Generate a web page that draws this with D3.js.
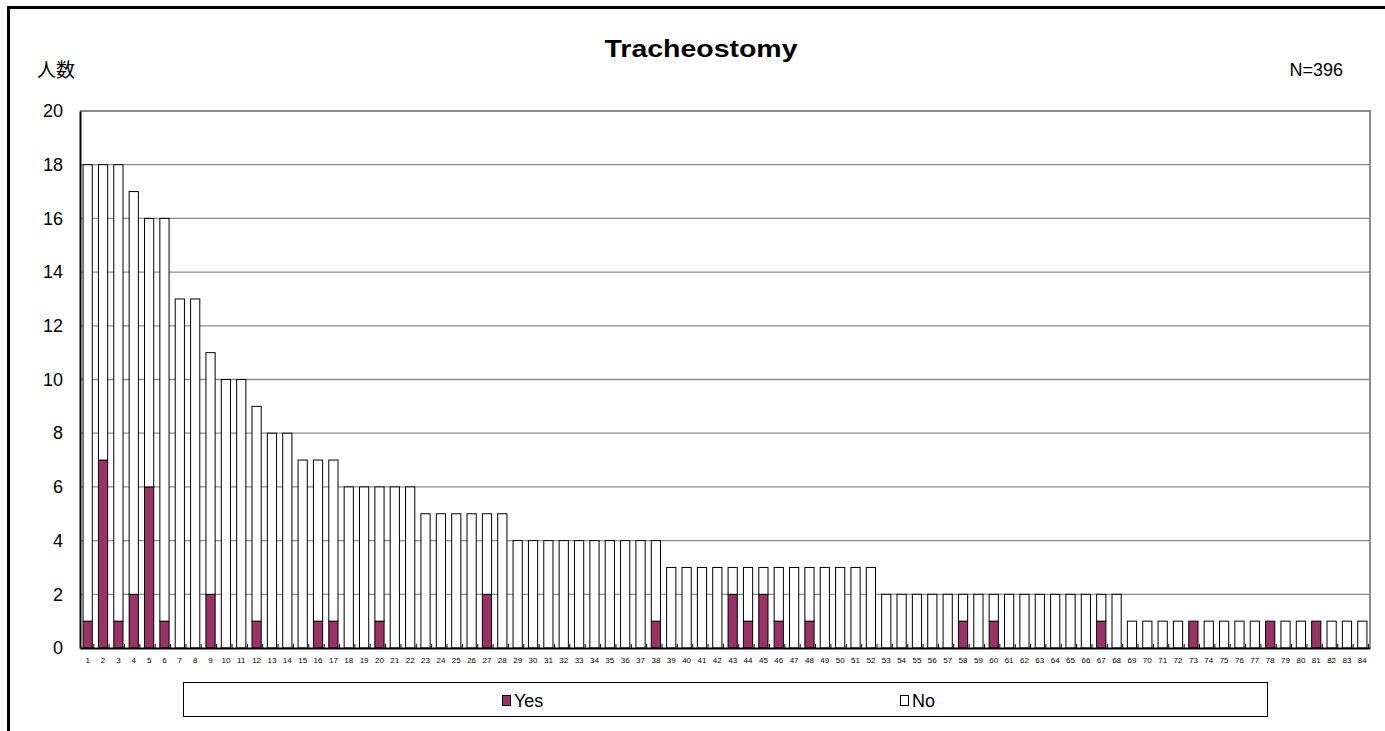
<!DOCTYPE html>
<html><head><meta charset="utf-8">
<script src="https://cdn.jsdelivr.net/npm/d3@7"></script>
<style>body{margin:0;background:#fff;}svg{display:block;}</style>
</head><body>
<script>
const categories = d3.range(1, 85).map(String);
const totals = [18,18,18,17,16,16,13,13,11,10,10,9,8,8,7,7,7,6,6,6,6,6,5,5,5,5,5,5,
  4,4,4,4,4,4,4,4,4,4,3,3,3,3,3,3,3,3,3,3,3,3,3,3,2,2,2,2,2,2,2,2,2,2,2,2,2,2,2,2,
  1,1,1,1,1,1,1,1,1,1,1,1,1,1,1,1];
const yesValues = {1:1,2:7,3:1,4:2,5:6,6:1,9:2,12:1,16:1,17:1,20:1,27:2,38:1,43:2,44:1,45:2,46:1,48:1,58:1,60:1,67:1,73:1,78:1,81:1};
const yes = categories.map(c => yesValues[c] || 0);
const no = totals.map((t, i) => t - yes[i]);
const yTicks = [0,2,4,6,8,10,12,14,16,18,20];
const seriesNames = ["Yes", "No"];
const colors = {Yes: "#993366", No: "#ffffff"};

const W = 1385, H = 731;
const svg = d3.select("body").append("svg").attr("width", W).attr("height", H);
const font = "'Liberation Sans', Arial, sans-serif";

// outer frame
svg.append("rect").attr("x", 8.5).attr("y", 7.5).attr("width", W + 20).attr("height", H + 20)
  .attr("fill", "none").attr("stroke", "#000").attr("stroke-width", 3);

const pLeft = 80, pRight = 1370, pTop = 111, pBottom = 648;
const x = d3.scaleBand().domain(categories).range([pLeft, pRight]).paddingInner(0.4).paddingOuter(0.2);
const y = d3.scaleLinear().domain([0, 20]).range([pBottom, pTop]);

// gridlines
svg.append("g").selectAll("line").data(yTicks.slice(1, -1)).join("line")
  .attr("x1", pLeft).attr("x2", pRight).attr("y1", d => y(d)).attr("y2", d => y(d))
  .attr("stroke", "#8c8c8c").attr("stroke-width", 1.3);

// plot border (top, right)
svg.append("path").attr("d", `M${pLeft},${y(20)}H${pRight}V${pBottom}`)
  .attr("fill", "none").attr("stroke", "#8c8c8c").attr("stroke-width", 2);

const stackData = d3.stack().keys(seriesNames)(categories.map((c, i) => ({cat: c, Yes: yes[i], No: no[i]})));
svg.append("g").selectAll("g").data(stackData).join("g")
  .attr("fill", d => colors[d.key])
  .selectAll("rect").data(d => d.filter(p => p[1] > p[0])).join("rect")
  .attr("x", d => x(d.data.cat)).attr("width", x.bandwidth())
  .attr("y", d => y(d[1])).attr("height", d => y(d[0]) - y(d[1]))
  .attr("stroke", "#000").attr("stroke-width", 1);

// axes
const yAxis = d3.axisLeft(y).tickValues(yTicks).tickSize(0).tickPadding(17);
const gy = svg.append("g").attr("transform", `translate(${pLeft},0)`).call(yAxis);
gy.select(".domain").attr("stroke", "#000").attr("stroke-width", 2);
gy.selectAll("text").attr("font-family", font).attr("font-size", 18).attr("fill", "#000");

const xAxis = d3.axisBottom(x).tickSize(0).tickPadding(9);
const gx = svg.append("g").attr("transform", `translate(0,${pBottom})`).call(xAxis);
gx.select(".domain").attr("stroke", "#000").attr("stroke-width", 2);
gx.selectAll("text").attr("font-family", font).attr("font-size", 8).attr("fill", "#000");
// small inside ticks
svg.append("g").selectAll("line").data(categories).join("line")
  .attr("x1", d => x(d) + x.bandwidth() + 1.5).attr("x2", d => x(d) + x.bandwidth() + 1.5)
  .attr("y1", pBottom).attr("y2", pBottom - 4).attr("stroke", "#000").attr("stroke-width", 1);

// titles
svg.append("text").attr("x", 701).attr("y", 57).attr("text-anchor", "middle")
  .attr("font-family", font).attr("font-weight", "bold").attr("font-size", 23)
  .attr("textLength", 193).attr("lengthAdjust", "spacingAndGlyphs").text("Tracheostomy");
svg.append("text").attr("x", 37).attr("y", 77)
  .attr("font-family", "'Noto Sans CJK JP', sans-serif").attr("font-size", 19).text("人数");
svg.append("text").attr("x", 1343).attr("y", 76).attr("text-anchor", "end")
  .attr("font-family", font).attr("font-size", 18).text("N=396");

// legend
svg.append("rect").attr("x", 183.5).attr("y", 682.5).attr("width", 1084).attr("height", 34)
  .attr("fill", "#fff").attr("stroke", "#000").attr("stroke-width", 1);
const legendX = {Yes: 502, No: 900};
const lg = svg.append("g").selectAll("g").data(seriesNames).join("g")
  .attr("transform", d => `translate(${legendX[d]},0)`);
lg.append("rect").attr("x", 0.5).attr("y", 695.5).attr("width", 8).attr("height", 10)
  .attr("fill", d => colors[d]).attr("stroke", "#000").attr("stroke-width", 1);
lg.append("text").attr("x", 12).attr("y", 707).attr("font-family", font).attr("font-size", 18)
  .text(d => d);
</script>
</body></html>
